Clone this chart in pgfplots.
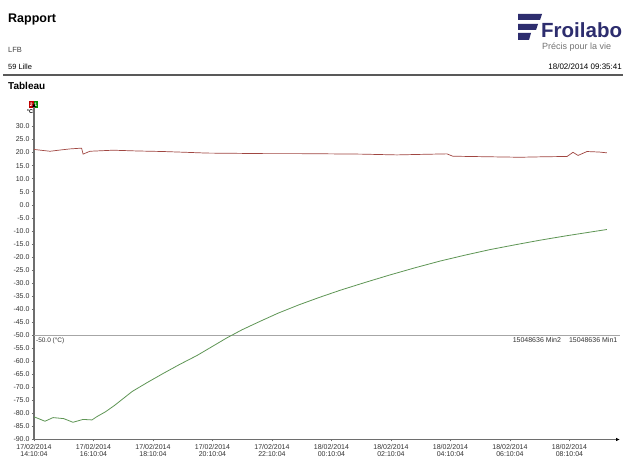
\documentclass[border=0pt]{standalone}
\usepackage{fontspec}
\setmainfont{Liberation Sans}
\usepackage{pgfplots}
\pgfplotsset{compat=1.18}
\usetikzlibrary{arrows.meta}

\definecolor{navy}{RGB}{45,45,110}
\definecolor{redline}{RGB}{160,70,65}
\definecolor{greenline}{RGB}{95,150,85}
\definecolor{axgray}{RGB}{110,110,110}

\begin{document}
\begin{tikzpicture}
\useasboundingbox (0pt,0pt) rectangle (625pt,460pt);
\fill[white] (0pt,0pt) rectangle (625pt,460pt);
\clip (0pt,0pt) rectangle (625pt,460pt);

\begin{scope}[x=1pt,y=1pt]
% header
\node[anchor=base west, inner sep=0, font=\bfseries\fontsize{12.5}{14}\selectfont] at (8,437) {Rapport};
\node[anchor=base west, inner sep=0, font=\fontsize{7.5}{8}\selectfont, text=black!75] at (8,407) {LFB};
\node[anchor=base west, inner sep=0, font=\fontsize{7.5}{8}\selectfont] at (8,390) {59 Lille};
\node[anchor=base east, inner sep=0, font=\fontsize{8}{9}\selectfont] at (622,390) {18/02/2014 09:35:41};
\draw[line width=1.2pt, black!65] (3,385) -- (623,385);
\node[anchor=base west, inner sep=0, font=\bfseries\fontsize{10}{12}\selectfont] at (8,370) {Tableau};

% logo
\fill[navy] (518,446) -- (542,446) -- (540,440) -- (518,440) -- cycle;
\fill[navy] (518,436) -- (538,436) -- (536,430) -- (518,430) -- cycle;
\fill[navy] (518,427) -- (531,427) -- (529,420) -- (518,420) -- cycle;
\node[anchor=base west, inner sep=0, text=navy, font=\bfseries\fontsize{20.5}{22}\selectfont] at (541,422) {Froilabo};
\node[anchor=base west, inner sep=0, text=black!55, font=\fontsize{9}{10}\selectfont] at (542,410) {Précis pour la vie};

% little legend icon above the y axis
\fill[red!75!black] (29,352) rectangle (33.5,359);
\fill[green!55!black] (33.5,352) rectangle (38,359);
\node[inner sep=0, text=white, font=\bfseries\fontsize{5}{5}\selectfont] at (31.25,355.5) {2};
\node[inner sep=0, text=white, font=\bfseries\fontsize{5}{5}\selectfont] at (35.75,355.5) {1};
\node[anchor=base, inner sep=0, font=\bfseries\fontsize{5.5}{6}\selectfont] at (30,346) {°C};
\end{scope}

\begin{axis}[
    at={(34pt,20.5pt)}, anchor=south west,
    width=586pt, height=336.5pt, scale only axis,
    xmin=0, xmax=19.7, ymin=-90, ymax=39,
    axis lines=left,
    axis line style={axgray, line width=1.1pt, -{Latex[length=4pt,width=3.5pt,black]}},
    clip=false,
    ytick={-90,-85,...,30},
    xtick={0,2,...,18},
    xticklabels={{17/02/2014\\14:10:04},{17/02/2014\\16:10:04},{17/02/2014\\18:10:04},
                 {17/02/2014\\20:10:04},{17/02/2014\\22:10:04},{18/02/2014\\00:10:04},
                 {18/02/2014\\02:10:04},{18/02/2014\\04:10:04},{18/02/2014\\06:10:04},
                 {18/02/2014\\08:10:04}},
    xticklabel style={align=center, font=\fontsize{7}{7.5}\selectfont, text=black!80, yshift=1pt},
    yticklabel style={font=\fontsize{7}{7.5}\selectfont, text=black!80, xshift=1pt},
    /pgf/number format/assume math mode=true,
    yticklabel={\pgfmathprintnumber[fixed,fixed zerofill,precision=1]{\tick}},
    major tick length=2pt,
    tick style={axgray, thin},
    tick align=outside,
]
% -50 reference line
\addplot[black!35, line width=0.9pt] coordinates {(0,-50) (19.7,-50)};
\node[anchor=north west, inner sep=1pt, font=\fontsize{6.5}{7}\selectfont, text=black!80] at (axis cs:0.03,-50.6) {-50.0 (°C)};
\node[anchor=north east, inner sep=1pt, font=\fontsize{7}{7.5}\selectfont, text=black!80] at (axis cs:19.65,-50.6) {15048636 Min2\hspace{8pt}15048636 Min1};

% sensor 2 (red)
\addplot[redline, line width=0.7pt] coordinates {
 (0,21.2) (0.3,20.8) (0.54,20.5) (0.9,21.0) (1.21,21.4) (1.60,21.7) (1.65,19.4)
 (1.88,20.5) (2.66,20.9) (3.5,20.6) (4.34,20.4) (5.1,20.1) (5.81,19.8) (6.8,19.7)
 (7.7,19.6) (8.8,19.6) (9.95,19.5) (11.0,19.4) (12.2,19.1) (13.0,19.3) (13.88,19.5)
 (14.08,18.6) (15.2,18.4) (16.34,18.2) (17.2,18.4) (17.92,18.5) (18.12,20.1)
 (18.29,18.9) (18.59,20.4) (19.0,20.2) (19.26,19.9)
};
% sensor 1 (green)
\addplot[greenline, line width=0.8pt] coordinates {
 (0,-81.3) (0.37,-83.0) (0.64,-81.6) (1.0,-82.0) (1.31,-83.4) (1.65,-82.3)
 (1.95,-82.5) (2.12,-81.2) (2.4,-79.4) (2.7,-77.0) (3.0,-74.3) (3.3,-71.6)
 (3.8,-68.2) (4.34,-64.7) (4.9,-61.2) (5.48,-57.8) (6.0,-54.3) (6.49,-51.0)
 (7.0,-47.9) (7.6,-44.7) (8.2,-41.6) (8.9,-38.4) (9.6,-35.5) (10.29,-32.8)
 (11.1,-29.9) (11.97,-26.9) (12.8,-24.2) (13.65,-21.6) (14.5,-19.3) (15.33,-17.2)
 (16.2,-15.3) (17.01,-13.6) (17.9,-11.9) (18.69,-10.5) (19.26,-9.5)
};
\end{axis}
\end{tikzpicture}
\end{document}
